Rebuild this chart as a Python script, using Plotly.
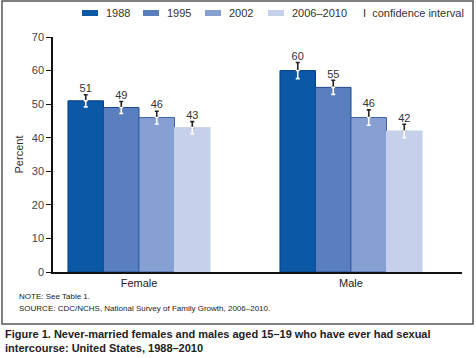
import plotly.graph_objects as go

categories = ["Female", "Male"]
series_names = ["1988", "1995", "2002", "2006\u20132010"]
values = {
    "1988": [51, 60],
    "1995": [49, 55],
    "2002": [46, 46],
    "2006\u20132010": [43, 42],
}
ci_half = {
    "1988": [1.8, 2.4],
    "1995": [1.8, 2.1],
    "2002": [1.9, 2.3],
    "2006\u20132010": [1.8, 2.0],
}
y_ticks = [0, 10, 20, 30, 40, 50, 60, 70]

colors = ["#0b58a6", "#5a7fbe", "#86a0d4", "#c6d0ea"]
outlines = ["#083f80", "#1f4b8e", "#3f63a6", "#c6d0ea"]

W, H = 476, 358
ML, MR, MT, MB = 53, 14, 37, 86

fig = go.Figure()

n = len(series_names)
bw = 0.1675
cat_x = list(range(len(categories)))
for i, name in enumerate(series_names):
    off = (i - (n - 1) / 2) * bw
    xs = [c + off for c in cat_x]
    ys = values[name]
    err = ci_half[name]
    fig.add_trace(go.Bar(
        x=xs, y=ys, width=bw, name=name,
        marker=dict(color=colors[i], line=dict(color=outlines[i], width=1)),
        error_y=dict(type="data", symmetric=False, array=err, arrayminus=[0] * len(err),
                     color="#222222", thickness=1.6, width=2),
        showlegend=False, hoverinfo="y",
    ))
    fig.add_trace(go.Scatter(
        x=xs, y=ys, mode="markers", marker=dict(size=1, color="rgba(0,0,0,0)"),
        error_y=dict(type="data", symmetric=False, array=[0] * len(err), arrayminus=err,
                     color="#ffffff", thickness=1.6, width=2),
        showlegend=False, hoverinfo="skip",
    ))
    fig.add_trace(go.Scatter(
        x=xs, y=[v + e for v, e in zip(ys, err)], mode="text",
        text=[str(v) for v in ys], textposition="top center",
        textfont=dict(family="Liberation Sans, Arial", size=11, color="#333333"),
        showlegend=False, hoverinfo="skip",
    ))

x_lo = (53 - 139) / 212
x_hi = (462 - 139) / 212

fig.update_layout(
    width=W, height=H,
    margin=dict(l=ML, r=MR, t=MT, b=MB),
    paper_bgcolor="white", plot_bgcolor="white",
    barmode="overlay",
    font=dict(family="Liberation Sans, Arial", size=11, color="#333333"),
    xaxis=dict(
        range=[x_lo, x_hi], tickmode="array", tickvals=cat_x, ticktext=categories,
        showline=True, linecolor="#111111", linewidth=1.5, ticks="", showgrid=False,
        zeroline=False, tickfont=dict(size=11, color="#222222"),
    ),
    yaxis=dict(
        range=[0, 70], tickmode="array", tickvals=y_ticks,
        showline=True, linecolor="#111111", linewidth=1.5, ticks="outside",
        ticklen=5, tickcolor="#111111", showgrid=False, zeroline=False,
        tickfont=dict(size=11, color="#444444"),
        title=dict(text="Percent", font=dict(size=11, color="#333333"), standoff=6),
    ),
    showlegend=False,
)

def px_x(p):
    return (p - ML) / (W - ML - MR)

def px_y(p):
    return (H - MB - p) / (H - MT - MB)

shapes = []
annotations = []
leg_x = [82, 143, 205, 268]
for i, name in enumerate(series_names):
    shapes.append(dict(type="rect", xref="paper", yref="paper",
                       x0=px_x(leg_x[i]), x1=px_x(leg_x[i] + 16),
                       y0=px_y(16), y1=px_y(10),
                       fillcolor=colors[i], line=dict(width=0)))
    annotations.append(dict(xref="paper", yref="paper", x=px_x(leg_x[i] + 22), y=px_y(13),
                            text=name, showarrow=False, xanchor="left", yanchor="middle",
                            font=dict(size=11, color="#333333")))
annotations.append(dict(xref="paper", yref="paper", x=px_x(361), y=px_y(13),
                        text="I  confidence interval", showarrow=False, xanchor="left",
                        yanchor="middle", font=dict(size=11, color="#333333")))

shapes.append(dict(type="rect", xref="paper", yref="paper",
                   x0=px_x(2), x1=px_x(473), y0=px_y(324), y1=px_y(1),
                   line=dict(color="#555555", width=1.5), fillcolor="rgba(0,0,0,0)",
                   layer="below"))

annotations.append(dict(xref="paper", yref="paper", x=px_x(17), y=px_y(296),
                        text="NOTE: See Table 1.", showarrow=False, xanchor="left",
                        yanchor="middle", font=dict(size=8, color="#222222")))
annotations.append(dict(xref="paper", yref="paper", x=px_x(17), y=px_y(308),
                        text="SOURCE: CDC/NCHS, National Survey of Family Growth, 2006\u20132010.",
                        showarrow=False, xanchor="left", yanchor="middle",
                        font=dict(size=8, color="#222222")))
annotations.append(dict(xref="paper", yref="paper", x=px_x(3), y=px_y(341),
                        text="<b>Figure 1. Never-married females and males aged 15\u201319 who have ever had sexual<br>intercourse: United States, 1988\u20132010</b>",
                        showarrow=False, xanchor="left", yanchor="middle", align="left",
                        font=dict(size=11, color="#222222")))

fig.update_layout(shapes=shapes, annotations=annotations)
fig.write_html("out.html", config={"displayModeBar": False},
               post_script="document.body.style.margin='0';document.body.style.overflow='hidden';")
